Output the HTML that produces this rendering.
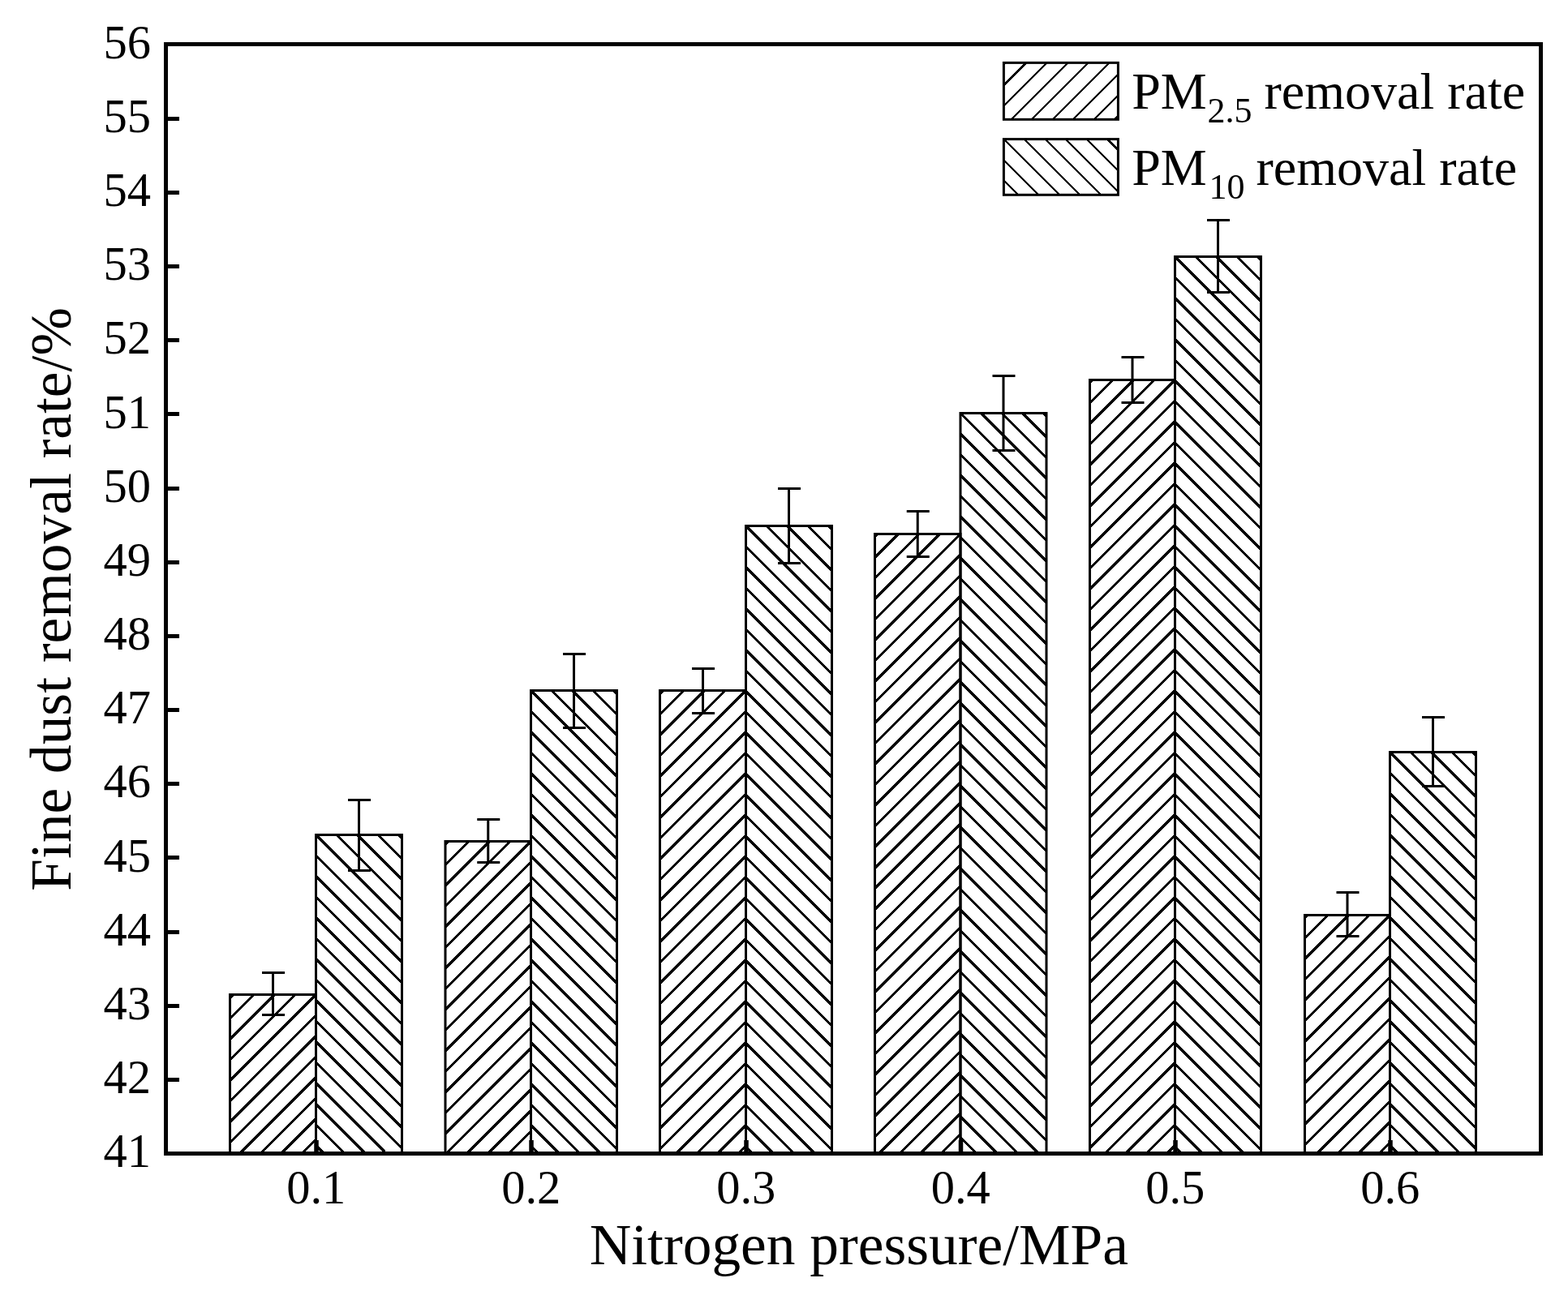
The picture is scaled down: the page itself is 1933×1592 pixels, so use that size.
<!DOCTYPE html><html><head><meta charset="utf-8"><style>html,body{margin:0;padding:0;background:#fff;width:1933px;height:1592px;overflow:hidden;}svg{display:block;}text{font-family:"Liberation Serif","Times New Roman",serif;fill:#000;}</style></head><body>
<svg width="1933" height="1592" viewBox="0 0 1933 1592">
<rect x="0" y="0" width="1933" height="1592" fill="#fff"/>
<defs><clipPath id="c1"><rect x="283.50" y="1226.50" width="106.00" height="196.00"/></clipPath><clipPath id="c2"><rect x="389.50" y="1029.50" width="106.00" height="393.00"/></clipPath><clipPath id="c3"><rect x="549.00" y="1037.50" width="105.50" height="385.00"/></clipPath><clipPath id="c4"><rect x="654.50" y="851.50" width="106.00" height="571.00"/></clipPath><clipPath id="c5"><rect x="813.50" y="851.50" width="106.00" height="571.00"/></clipPath><clipPath id="c6"><rect x="919.50" y="648.50" width="106.00" height="774.00"/></clipPath><clipPath id="c7"><rect x="1078.50" y="658.50" width="105.50" height="764.00"/></clipPath><clipPath id="c8"><rect x="1184.00" y="509.50" width="106.00" height="913.00"/></clipPath><clipPath id="c9"><rect x="1343.50" y="468.50" width="105.00" height="954.00"/></clipPath><clipPath id="c10"><rect x="1448.50" y="316.50" width="106.00" height="1106.00"/></clipPath><clipPath id="c11"><rect x="1608.50" y="1128.50" width="105.00" height="294.00"/></clipPath><clipPath id="c12"><rect x="1713.50" y="927.50" width="106.00" height="495.00"/></clipPath><clipPath id="c13"><rect x="1237.40" y="77.40" width="141.00" height="69.90"/></clipPath><clipPath id="c14"><rect x="1237.40" y="171.60" width="141.00" height="68.70"/></clipPath></defs>
<path clip-path="url(#c1)" d="M278.50 1235.42L292.42 1221.50M278.50 1260.94L317.94 1221.50M278.50 1286.46L343.46 1221.50M278.50 1311.98L368.98 1221.50M278.50 1337.50L394.50 1221.50M278.50 1363.02L394.50 1247.02M278.50 1388.54L394.50 1272.54M278.50 1414.06L394.50 1298.06M290.58 1427.50L394.50 1323.58M316.10 1427.50L394.50 1349.10M341.62 1427.50L394.50 1374.62M367.14 1427.50L394.50 1400.14M392.66 1427.50L394.50 1425.66" stroke="#000" stroke-width="3.2" fill="none" shape-rendering="crispEdges"/>
<rect x="283.50" y="1226.50" width="106.00" height="196.00" fill="none" stroke="#000" stroke-width="3.0"/>
<path clip-path="url(#c2)" d="M486.58 1024.50L500.50 1038.42M461.06 1024.50L500.50 1063.94M435.54 1024.50L500.50 1089.46M410.02 1024.50L500.50 1114.98M384.50 1024.50L500.50 1140.50M384.50 1050.02L500.50 1166.02M384.50 1075.54L500.50 1191.54M384.50 1101.06L500.50 1217.06M384.50 1126.58L500.50 1242.58M384.50 1152.10L500.50 1268.10M384.50 1177.62L500.50 1293.62M384.50 1203.14L500.50 1319.14M384.50 1228.66L500.50 1344.66M384.50 1254.18L500.50 1370.18M384.50 1279.70L500.50 1395.70M384.50 1305.22L500.50 1421.22M384.50 1330.74L481.26 1427.50M384.50 1356.26L455.74 1427.50M384.50 1381.78L430.22 1427.50M384.50 1407.30L404.70 1427.50" stroke="#000" stroke-width="3.2" fill="none" shape-rendering="crispEdges"/>
<rect x="389.50" y="1029.50" width="106.00" height="393.00" fill="none" stroke="#000" stroke-width="3.0"/>
<path clip-path="url(#c3)" d="M544.00 1045.92L557.42 1032.50M544.00 1071.44L582.94 1032.50M544.00 1096.96L608.46 1032.50M544.00 1122.48L633.98 1032.50M544.00 1148.00L659.50 1032.50M544.00 1173.52L659.50 1058.02M544.00 1199.04L659.50 1083.54M544.00 1224.56L659.50 1109.06M544.00 1250.08L659.50 1134.58M544.00 1275.60L659.50 1160.10M544.00 1301.12L659.50 1185.62M544.00 1326.64L659.50 1211.14M544.00 1352.16L659.50 1236.66M544.00 1377.68L659.50 1262.18M544.00 1403.20L659.50 1287.70M545.22 1427.50L659.50 1313.22M570.74 1427.50L659.50 1338.74M596.26 1427.50L659.50 1364.26M621.78 1427.50L659.50 1389.78M647.30 1427.50L659.50 1415.30" stroke="#000" stroke-width="3.2" fill="none" shape-rendering="crispEdges"/>
<rect x="549.00" y="1037.50" width="105.50" height="385.00" fill="none" stroke="#000" stroke-width="3.0"/>
<path clip-path="url(#c4)" d="M751.58 846.50L765.50 860.42M726.06 846.50L765.50 885.94M700.54 846.50L765.50 911.46M675.02 846.50L765.50 936.98M649.50 846.50L765.50 962.50M649.50 872.02L765.50 988.02M649.50 897.54L765.50 1013.54M649.50 923.06L765.50 1039.06M649.50 948.58L765.50 1064.58M649.50 974.10L765.50 1090.10M649.50 999.62L765.50 1115.62M649.50 1025.14L765.50 1141.14M649.50 1050.66L765.50 1166.66M649.50 1076.18L765.50 1192.18M649.50 1101.70L765.50 1217.70M649.50 1127.22L765.50 1243.22M649.50 1152.74L765.50 1268.74M649.50 1178.26L765.50 1294.26M649.50 1203.78L765.50 1319.78M649.50 1229.30L765.50 1345.30M649.50 1254.82L765.50 1370.82M649.50 1280.34L765.50 1396.34M649.50 1305.86L765.50 1421.86M649.50 1331.38L745.62 1427.50M649.50 1356.90L720.10 1427.50M649.50 1382.42L694.58 1427.50M649.50 1407.94L669.06 1427.50" stroke="#000" stroke-width="3.2" fill="none" shape-rendering="crispEdges"/>
<rect x="654.50" y="851.50" width="106.00" height="571.00" fill="none" stroke="#000" stroke-width="3.0"/>
<path clip-path="url(#c5)" d="M808.50 860.42L822.42 846.50M808.50 885.94L847.94 846.50M808.50 911.46L873.46 846.50M808.50 936.98L898.98 846.50M808.50 962.50L924.50 846.50M808.50 988.02L924.50 872.02M808.50 1013.54L924.50 897.54M808.50 1039.06L924.50 923.06M808.50 1064.58L924.50 948.58M808.50 1090.10L924.50 974.10M808.50 1115.62L924.50 999.62M808.50 1141.14L924.50 1025.14M808.50 1166.66L924.50 1050.66M808.50 1192.18L924.50 1076.18M808.50 1217.70L924.50 1101.70M808.50 1243.22L924.50 1127.22M808.50 1268.74L924.50 1152.74M808.50 1294.26L924.50 1178.26M808.50 1319.78L924.50 1203.78M808.50 1345.30L924.50 1229.30M808.50 1370.82L924.50 1254.82M808.50 1396.34L924.50 1280.34M808.50 1421.86L924.50 1305.86M828.38 1427.50L924.50 1331.38M853.90 1427.50L924.50 1356.90M879.42 1427.50L924.50 1382.42M904.94 1427.50L924.50 1407.94" stroke="#000" stroke-width="3.2" fill="none" shape-rendering="crispEdges"/>
<rect x="813.50" y="851.50" width="106.00" height="571.00" fill="none" stroke="#000" stroke-width="3.0"/>
<path clip-path="url(#c6)" d="M1016.58 643.50L1030.50 657.42M991.06 643.50L1030.50 682.94M965.54 643.50L1030.50 708.46M940.02 643.50L1030.50 733.98M914.50 643.50L1030.50 759.50M914.50 669.02L1030.50 785.02M914.50 694.54L1030.50 810.54M914.50 720.06L1030.50 836.06M914.50 745.58L1030.50 861.58M914.50 771.10L1030.50 887.10M914.50 796.62L1030.50 912.62M914.50 822.14L1030.50 938.14M914.50 847.66L1030.50 963.66M914.50 873.18L1030.50 989.18M914.50 898.70L1030.50 1014.70M914.50 924.22L1030.50 1040.22M914.50 949.74L1030.50 1065.74M914.50 975.26L1030.50 1091.26M914.50 1000.78L1030.50 1116.78M914.50 1026.30L1030.50 1142.30M914.50 1051.82L1030.50 1167.82M914.50 1077.34L1030.50 1193.34M914.50 1102.86L1030.50 1218.86M914.50 1128.38L1030.50 1244.38M914.50 1153.90L1030.50 1269.90M914.50 1179.42L1030.50 1295.42M914.50 1204.94L1030.50 1320.94M914.50 1230.46L1030.50 1346.46M914.50 1255.98L1030.50 1371.98M914.50 1281.50L1030.50 1397.50M914.50 1307.02L1030.50 1423.02M914.50 1332.54L1009.46 1427.50M914.50 1358.06L983.94 1427.50M914.50 1383.58L958.42 1427.50M914.50 1409.10L932.90 1427.50" stroke="#000" stroke-width="3.2" fill="none" shape-rendering="crispEdges"/>
<rect x="919.50" y="648.50" width="106.00" height="774.00" fill="none" stroke="#000" stroke-width="3.0"/>
<path clip-path="url(#c7)" d="M1073.50 666.92L1086.92 653.50M1073.50 692.44L1112.44 653.50M1073.50 717.96L1137.96 653.50M1073.50 743.48L1163.48 653.50M1073.50 769.00L1189.00 653.50M1073.50 794.52L1189.00 679.02M1073.50 820.04L1189.00 704.54M1073.50 845.56L1189.00 730.06M1073.50 871.08L1189.00 755.58M1073.50 896.60L1189.00 781.10M1073.50 922.12L1189.00 806.62M1073.50 947.64L1189.00 832.14M1073.50 973.16L1189.00 857.66M1073.50 998.68L1189.00 883.18M1073.50 1024.20L1189.00 908.70M1073.50 1049.72L1189.00 934.22M1073.50 1075.24L1189.00 959.74M1073.50 1100.76L1189.00 985.26M1073.50 1126.28L1189.00 1010.78M1073.50 1151.80L1189.00 1036.30M1073.50 1177.32L1189.00 1061.82M1073.50 1202.84L1189.00 1087.34M1073.50 1228.36L1189.00 1112.86M1073.50 1253.88L1189.00 1138.38M1073.50 1279.40L1189.00 1163.90M1073.50 1304.92L1189.00 1189.42M1073.50 1330.44L1189.00 1214.94M1073.50 1355.96L1189.00 1240.46M1073.50 1381.48L1189.00 1265.98M1073.50 1407.00L1189.00 1291.50M1078.52 1427.50L1189.00 1317.02M1104.04 1427.50L1189.00 1342.54M1129.56 1427.50L1189.00 1368.06M1155.08 1427.50L1189.00 1393.58M1180.60 1427.50L1189.00 1419.10" stroke="#000" stroke-width="3.2" fill="none" shape-rendering="crispEdges"/>
<rect x="1078.50" y="658.50" width="105.50" height="764.00" fill="none" stroke="#000" stroke-width="3.0"/>
<path clip-path="url(#c8)" d="M1281.08 504.50L1295.00 518.42M1255.56 504.50L1295.00 543.94M1230.04 504.50L1295.00 569.46M1204.52 504.50L1295.00 594.98M1179.00 504.50L1295.00 620.50M1179.00 530.02L1295.00 646.02M1179.00 555.54L1295.00 671.54M1179.00 581.06L1295.00 697.06M1179.00 606.58L1295.00 722.58M1179.00 632.10L1295.00 748.10M1179.00 657.62L1295.00 773.62M1179.00 683.14L1295.00 799.14M1179.00 708.66L1295.00 824.66M1179.00 734.18L1295.00 850.18M1179.00 759.70L1295.00 875.70M1179.00 785.22L1295.00 901.22M1179.00 810.74L1295.00 926.74M1179.00 836.26L1295.00 952.26M1179.00 861.78L1295.00 977.78M1179.00 887.30L1295.00 1003.30M1179.00 912.82L1295.00 1028.82M1179.00 938.34L1295.00 1054.34M1179.00 963.86L1295.00 1079.86M1179.00 989.38L1295.00 1105.38M1179.00 1014.90L1295.00 1130.90M1179.00 1040.42L1295.00 1156.42M1179.00 1065.94L1295.00 1181.94M1179.00 1091.46L1295.00 1207.46M1179.00 1116.98L1295.00 1232.98M1179.00 1142.50L1295.00 1258.50M1179.00 1168.02L1295.00 1284.02M1179.00 1193.54L1295.00 1309.54M1179.00 1219.06L1295.00 1335.06M1179.00 1244.58L1295.00 1360.58M1179.00 1270.10L1295.00 1386.10M1179.00 1295.62L1295.00 1411.62M1179.00 1321.14L1285.36 1427.50M1179.00 1346.66L1259.84 1427.50M1179.00 1372.18L1234.32 1427.50M1179.00 1397.70L1208.80 1427.50M1179.00 1423.22L1183.28 1427.50" stroke="#000" stroke-width="3.2" fill="none" shape-rendering="crispEdges"/>
<rect x="1184.00" y="509.50" width="106.00" height="913.00" fill="none" stroke="#000" stroke-width="3.0"/>
<path clip-path="url(#c9)" d="M1338.50 476.42L1351.42 463.50M1338.50 501.94L1376.94 463.50M1338.50 527.46L1402.46 463.50M1338.50 552.98L1427.98 463.50M1338.50 578.50L1453.50 463.50M1338.50 604.02L1453.50 489.02M1338.50 629.54L1453.50 514.54M1338.50 655.06L1453.50 540.06M1338.50 680.58L1453.50 565.58M1338.50 706.10L1453.50 591.10M1338.50 731.62L1453.50 616.62M1338.50 757.14L1453.50 642.14M1338.50 782.66L1453.50 667.66M1338.50 808.18L1453.50 693.18M1338.50 833.70L1453.50 718.70M1338.50 859.22L1453.50 744.22M1338.50 884.74L1453.50 769.74M1338.50 910.26L1453.50 795.26M1338.50 935.78L1453.50 820.78M1338.50 961.30L1453.50 846.30M1338.50 986.82L1453.50 871.82M1338.50 1012.34L1453.50 897.34M1338.50 1037.86L1453.50 922.86M1338.50 1063.38L1453.50 948.38M1338.50 1088.90L1453.50 973.90M1338.50 1114.42L1453.50 999.42M1338.50 1139.94L1453.50 1024.94M1338.50 1165.46L1453.50 1050.46M1338.50 1190.98L1453.50 1075.98M1338.50 1216.50L1453.50 1101.50M1338.50 1242.02L1453.50 1127.02M1338.50 1267.54L1453.50 1152.54M1338.50 1293.06L1453.50 1178.06M1338.50 1318.58L1453.50 1203.58M1338.50 1344.10L1453.50 1229.10M1338.50 1369.62L1453.50 1254.62M1338.50 1395.14L1453.50 1280.14M1338.50 1420.66L1453.50 1305.66M1357.18 1427.50L1453.50 1331.18M1382.70 1427.50L1453.50 1356.70M1408.22 1427.50L1453.50 1382.22M1433.74 1427.50L1453.50 1407.74" stroke="#000" stroke-width="3.2" fill="none" shape-rendering="crispEdges"/>
<rect x="1343.50" y="468.50" width="105.00" height="954.00" fill="none" stroke="#000" stroke-width="3.0"/>
<path clip-path="url(#c10)" d="M1545.58 311.50L1559.50 325.42M1520.06 311.50L1559.50 350.94M1494.54 311.50L1559.50 376.46M1469.02 311.50L1559.50 401.98M1443.50 311.50L1559.50 427.50M1443.50 337.02L1559.50 453.02M1443.50 362.54L1559.50 478.54M1443.50 388.06L1559.50 504.06M1443.50 413.58L1559.50 529.58M1443.50 439.10L1559.50 555.10M1443.50 464.62L1559.50 580.62M1443.50 490.14L1559.50 606.14M1443.50 515.66L1559.50 631.66M1443.50 541.18L1559.50 657.18M1443.50 566.70L1559.50 682.70M1443.50 592.22L1559.50 708.22M1443.50 617.74L1559.50 733.74M1443.50 643.26L1559.50 759.26M1443.50 668.78L1559.50 784.78M1443.50 694.30L1559.50 810.30M1443.50 719.82L1559.50 835.82M1443.50 745.34L1559.50 861.34M1443.50 770.86L1559.50 886.86M1443.50 796.38L1559.50 912.38M1443.50 821.90L1559.50 937.90M1443.50 847.42L1559.50 963.42M1443.50 872.94L1559.50 988.94M1443.50 898.46L1559.50 1014.46M1443.50 923.98L1559.50 1039.98M1443.50 949.50L1559.50 1065.50M1443.50 975.02L1559.50 1091.02M1443.50 1000.54L1559.50 1116.54M1443.50 1026.06L1559.50 1142.06M1443.50 1051.58L1559.50 1167.58M1443.50 1077.10L1559.50 1193.10M1443.50 1102.62L1559.50 1218.62M1443.50 1128.14L1559.50 1244.14M1443.50 1153.66L1559.50 1269.66M1443.50 1179.18L1559.50 1295.18M1443.50 1204.70L1559.50 1320.70M1443.50 1230.22L1559.50 1346.22M1443.50 1255.74L1559.50 1371.74M1443.50 1281.26L1559.50 1397.26M1443.50 1306.78L1559.50 1422.78M1443.50 1332.30L1538.70 1427.50M1443.50 1357.82L1513.18 1427.50M1443.50 1383.34L1487.66 1427.50M1443.50 1408.86L1462.14 1427.50" stroke="#000" stroke-width="3.2" fill="none" shape-rendering="crispEdges"/>
<rect x="1448.50" y="316.50" width="106.00" height="1106.00" fill="none" stroke="#000" stroke-width="3.0"/>
<path clip-path="url(#c11)" d="M1603.50 1136.42L1616.42 1123.50M1603.50 1161.94L1641.94 1123.50M1603.50 1187.46L1667.46 1123.50M1603.50 1212.98L1692.98 1123.50M1603.50 1238.50L1718.50 1123.50M1603.50 1264.02L1718.50 1149.02M1603.50 1289.54L1718.50 1174.54M1603.50 1315.06L1718.50 1200.06M1603.50 1340.58L1718.50 1225.58M1603.50 1366.10L1718.50 1251.10M1603.50 1391.62L1718.50 1276.62M1603.50 1417.14L1718.50 1302.14M1618.66 1427.50L1718.50 1327.66M1644.18 1427.50L1718.50 1353.18M1669.70 1427.50L1718.50 1378.70M1695.22 1427.50L1718.50 1404.22" stroke="#000" stroke-width="3.2" fill="none" shape-rendering="crispEdges"/>
<rect x="1608.50" y="1128.50" width="105.00" height="294.00" fill="none" stroke="#000" stroke-width="3.0"/>
<path clip-path="url(#c12)" d="M1810.58 922.50L1824.50 936.42M1785.06 922.50L1824.50 961.94M1759.54 922.50L1824.50 987.46M1734.02 922.50L1824.50 1012.98M1708.50 922.50L1824.50 1038.50M1708.50 948.02L1824.50 1064.02M1708.50 973.54L1824.50 1089.54M1708.50 999.06L1824.50 1115.06M1708.50 1024.58L1824.50 1140.58M1708.50 1050.10L1824.50 1166.10M1708.50 1075.62L1824.50 1191.62M1708.50 1101.14L1824.50 1217.14M1708.50 1126.66L1824.50 1242.66M1708.50 1152.18L1824.50 1268.18M1708.50 1177.70L1824.50 1293.70M1708.50 1203.22L1824.50 1319.22M1708.50 1228.74L1824.50 1344.74M1708.50 1254.26L1824.50 1370.26M1708.50 1279.78L1824.50 1395.78M1708.50 1305.30L1824.50 1421.30M1708.50 1330.82L1805.18 1427.50M1708.50 1356.34L1779.66 1427.50M1708.50 1381.86L1754.14 1427.50M1708.50 1407.38L1728.62 1427.50" stroke="#000" stroke-width="3.2" fill="none" shape-rendering="crispEdges"/>
<rect x="1713.50" y="927.50" width="106.00" height="495.00" fill="none" stroke="#000" stroke-width="3.0"/>
<path d="M336.50 1199.50V1251.50M323.00 1199.50H351.00M323.00 1251.50H351.00M442.50 986.50V1073.50M429.00 986.50H457.00M429.00 1073.50H457.00M601.75 1010.50V1063.50M588.25 1010.50H616.25M588.25 1063.50H616.25M707.50 806.50V897.50M694.00 806.50H722.00M694.00 897.50H722.00M866.50 824.50V879.50M853.00 824.50H881.00M853.00 879.50H881.00M972.50 602.50V694.50M959.00 602.50H987.00M959.00 694.50H987.00M1131.25 630.50V686.50M1117.75 630.50H1145.75M1117.75 686.50H1145.75M1237.00 463.50V555.50M1223.50 463.50H1251.50M1223.50 555.50H1251.50M1396.00 440.50V496.50M1382.50 440.50H1410.50M1382.50 496.50H1410.50M1501.50 271.50V360.50M1488.00 271.50H1516.00M1488.00 360.50H1516.00M1661.00 1100.50V1154.50M1647.50 1100.50H1675.50M1647.50 1154.50H1675.50M1766.50 884.50V969.50M1753.00 884.50H1781.00M1753.00 969.50H1781.00" stroke="#000" stroke-width="3" fill="none"/>
<rect x="204.5" y="54.5" width="1695" height="1368" fill="none" stroke="#000" stroke-width="5"/>
<path d="M207 1331.50H221M207 1240.50H221M207 1149.50H221M207 1057.50H221M207 966.50H221M207 875.50H221M207 784.50H221M207 693.50H221M207 602.50H221M207 510.50H221M207 419.50H221M207 328.50H221M207 237.50H221M207 146.50H221" stroke="#000" stroke-width="5" fill="none"/>
<path d="M390.00 1420V1406M655.00 1420V1406M920.00 1420V1406M1184.50 1420V1406M1449.00 1420V1406M1714.00 1420V1406" stroke="#000" stroke-width="5.5" fill="none"/>
<text x="186" y="1439.3" font-size="58.5" text-anchor="end">41</text>
<text x="186" y="1348.1" font-size="58.5" text-anchor="end">42</text>
<text x="186" y="1256.9" font-size="58.5" text-anchor="end">43</text>
<text x="186" y="1165.8" font-size="58.5" text-anchor="end">44</text>
<text x="186" y="1074.6" font-size="58.5" text-anchor="end">45</text>
<text x="186" y="983.4" font-size="58.5" text-anchor="end">46</text>
<text x="186" y="892.3" font-size="58.5" text-anchor="end">47</text>
<text x="186" y="801.1" font-size="58.5" text-anchor="end">48</text>
<text x="186" y="709.9" font-size="58.5" text-anchor="end">49</text>
<text x="186" y="618.7" font-size="58.5" text-anchor="end">50</text>
<text x="186" y="527.6" font-size="58.5" text-anchor="end">51</text>
<text x="186" y="436.4" font-size="58.5" text-anchor="end">52</text>
<text x="186" y="345.2" font-size="58.5" text-anchor="end">53</text>
<text x="186" y="254.1" font-size="58.5" text-anchor="end">54</text>
<text x="186" y="162.9" font-size="58.5" text-anchor="end">55</text>
<text x="186" y="71.7" font-size="58.5" text-anchor="end">56</text>
<text x="389.7" y="1484.2" font-size="58.5" text-anchor="middle">0.1</text>
<text x="654.7" y="1484.2" font-size="58.5" text-anchor="middle">0.2</text>
<text x="919.7" y="1484.2" font-size="58.5" text-anchor="middle">0.3</text>
<text x="1184.2" y="1484.2" font-size="58.5" text-anchor="middle">0.4</text>
<text x="1448.7" y="1484.2" font-size="58.5" text-anchor="middle">0.5</text>
<text x="1713.7" y="1484.2" font-size="58.5" text-anchor="middle">0.6</text>
<text x="726.7" y="1558.6" font-size="71.4">Nitrogen pressure/MPa</text>
<text transform="translate(86.8 1098.8) rotate(-90)" font-size="71.4">Fine dust removal rate/%</text>
<path clip-path="url(#c13)" d="M1232.40 84.68L1244.68 72.40M1232.40 110.20L1270.20 72.40M1232.40 135.72L1295.72 72.40M1241.34 152.30L1321.24 72.40M1266.86 152.30L1346.76 72.40M1292.38 152.30L1372.28 72.40M1317.90 152.30L1383.40 86.80M1343.42 152.30L1383.40 112.32M1368.94 152.30L1383.40 137.84" stroke="#000" stroke-width="2.3" fill="none" shape-rendering="crispEdges"/>
<rect x="1237.40" y="77.40" width="141.00" height="69.90" fill="none" stroke="#000" stroke-width="3.0"/>
<path clip-path="url(#c14)" d="M1360.00 166.60L1383.40 190.00M1334.48 166.60L1383.40 215.52M1308.96 166.60L1383.40 241.04M1283.44 166.60L1362.14 245.30M1257.92 166.60L1336.62 245.30M1232.40 166.60L1311.10 245.30M1232.40 192.12L1285.58 245.30M1232.40 217.64L1260.06 245.30M1232.40 243.16L1234.54 245.30" stroke="#000" stroke-width="2.3" fill="none" shape-rendering="crispEdges"/>
<rect x="1237.40" y="171.60" width="141.00" height="68.70" fill="none" stroke="#000" stroke-width="3.0"/>
<text x="1395.2" y="133.8" font-size="64">PM</text>
<text x="1488.5" y="150.8" font-size="44">2.5</text>
<text x="1558.5" y="134" font-size="64">removal rate</text>
<text x="1395.2" y="227.7" font-size="64">PM</text>
<text x="1490.5" y="244.5" font-size="44">10</text>
<text x="1548.5" y="227.7" font-size="64">removal rate</text>
</svg></body></html>
